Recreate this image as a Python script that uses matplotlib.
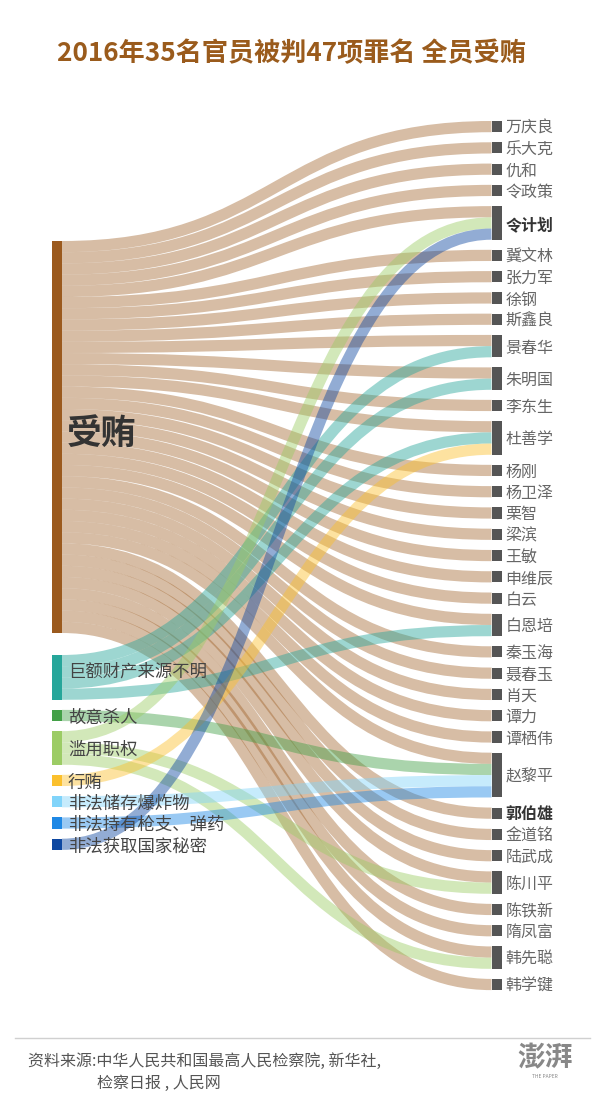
import matplotlib
matplotlib.use("Agg")
import matplotlib.pyplot as plt
from matplotlib.path import Path
from matplotlib.patches import PathPatch, Rectangle

plt.rcParams['font.family'] = ['Noto Sans CJK SC', 'DejaVu Sans']

# ---------------- data ----------------
title = "2016年35名官员被判47项罪名 全员受贿"
crimes = ['受贿', '巨额财产来源不明', '故意杀人', '滥用职权', '行贿',
          '非法储存爆炸物', '非法持有枪支、弹药', '非法获取国家秘密']
crime_colors = ['#9B5A1E', '#26A69A', '#43A047', '#9CCC65', '#FBC02D',
                '#81D4FA', '#1E88E5', '#0D47A1']
officials = ['万庆良', '乐大克', '仇和', '令政策', '令计划', '冀文林', '张力军', '徐钢',
             '斯鑫良', '景春华', '朱明国', '李东生', '杜善学', '杨刚', '杨卫泽', '栗智',
             '梁滨', '王敏', '申维辰', '白云', '白恩培', '秦玉海', '聂春玉', '肖天',
             '谭力', '谭栖伟', '赵黎平', '郭伯雄', '金道铭', '陆武成', '陈川平', '陈铁新',
             '隋凤富', '韩先聪', '韩学键']
extra_charges = {
    '令计划': ['滥用职权', '非法获取国家秘密'],
    '景春华': ['巨额财产来源不明'],
    '朱明国': ['巨额财产来源不明'],
    '杜善学': ['巨额财产来源不明', '行贿'],
    '白恩培': ['巨额财产来源不明'],
    '赵黎平': ['故意杀人', '非法储存爆炸物', '非法持有枪支、弹药'],
    '陈川平': ['滥用职权'],
    '韩先聪': ['滥用职权'],
}
bold_names = ['令计划', '郭伯雄']
source_line1 = "资料来源:中华人民共和国最高人民检察院, 新华社,"
source_line2 = "检察日报 , 人民网"

# links: (crime, official, value)
links = []
for o in officials:
    links.append(('受贿', o, 1))
    for c in extra_charges.get(o, []):
        links.append((c, o, 1))

# ---------------- layout (pixel space) ----------------
W, H = 600, 1108
fig = plt.figure(figsize=(W / 100, H / 100), dpi=100)
ax = fig.add_axes([0, 0, 1, 1])
ax.set_xlim(0, W)
ax.set_ylim(H, 0)
ax.axis('off')

ky = 11.2          # px per unit
gap = 10.08        # node padding
xl0, xl1 = 52, 62  # left node x range
xr0, xr1 = 491.5, 501.5

val_left = {c: sum(v for s, t, v in links if s == c) for c in crimes}
val_right = {o: sum(v for s, t, v in links if t == o) for o in officials}

# right column
right_top = {}
y = 121
for o in officials:
    right_top[o] = y
    y += val_right[o] * ky + gap

# left column
left_top = {}
left_top[crimes[0]] = 241
y = 655
for c in crimes[1:]:
    left_top[c] = y
    y += val_left[c] * ky + gap

# source links sorted by target order; target links sorted by source order
src_pos = {}
for c in crimes:
    outs = [(s, t, v) for (s, t, v) in links if s == c]
    outs.sort(key=lambda l: officials.index(l[1]))
    yy = left_top[c]
    for l in outs:
        src_pos[(l[0], l[1])] = yy + l[2] * ky / 2
        yy += l[2] * ky
tgt_pos = {}
for o in officials:
    ins = [(s, t, v) for (s, t, v) in links if t == o]
    ins.sort(key=lambda l: crimes.index(l[0]))
    yy = right_top[o]
    for l in ins:
        tgt_pos[(l[0], l[1])] = yy + l[2] * ky / 2
        yy += l[2] * ky

xm = (xl1 + xr0) / 2
for c in crimes:
    col = crime_colors[crimes.index(c)]
    a = 0.40 if c == '受贿' else 0.45
    for s, t, v in links:
        if s != c:
            continue
        y0 = src_pos[(s, t)]
        y1 = tgt_pos[(s, t)]
        p = Path([(xl1, y0), (xm, y0), (xm, y1), (xr0, y1)],
                 [Path.MOVETO, Path.CURVE4, Path.CURVE4, Path.CURVE4])
        ax.add_patch(PathPatch(p, facecolor='none', edgecolor=col, alpha=a,
                               lw=v * ky * 0.72, capstyle='butt', zorder=2))

# nodes
for c in crimes:
    ax.add_patch(Rectangle((xl0, left_top[c]), xl1 - xl0, val_left[c] * ky,
                           facecolor=crime_colors[crimes.index(c)], edgecolor='none', zorder=3))
for o in officials:
    ax.add_patch(Rectangle((xr0, right_top[o]), xr1 - xr0, val_right[o] * ky,
                           facecolor='#555555', edgecolor='none', zorder=3))

# labels
label_dy = {'受贿': -4, '巨额财产来源不明': -6}
for c in crimes:
    cy = left_top[c] + val_left[c] * ky / 2 + label_dy.get(c, 2)
    if c == '受贿':
        ax.text(xl1 + 5, cy, c, fontsize=25, fontweight='bold', color='#333333',
                va='center', ha='left', zorder=4)
    else:
        ax.text(xl1 + 6, cy, c, fontsize=12.5, color='#444444',
                va='center', ha='left', zorder=4)
for o in officials:
    cy = right_top[o] + val_right[o] * ky / 2 + 2
    if o in bold_names:
        ax.text(xr1 + 4, cy, o, fontsize=11.5, fontweight='bold', color='#333333',
                va='center', ha='left', zorder=4)
    else:
        ax.text(xr1 + 4, cy, o, fontsize=11.5, color='#666666',
                va='center', ha='left', zorder=4)

# title
ax.text(291, 54, title, fontsize=18.8, fontweight='bold', color='#9A5B1C',
        ha='center', va='center')

# footer
ax.plot([15, 590], [1038, 1038], color='#d0d0d0', lw=1)
ax.text(28, 1061, source_line1, fontsize=11.5, color='#555555', ha='left', va='center')
ax.text(97, 1083, source_line2, fontsize=11.5, color='#555555', ha='left', va='center')
ax.text(545, 1058, "澎湃", fontsize=20, fontweight='bold', color='#888888',
        ha='center', va='center')
ax.text(545, 1076, "THE PAPER", fontsize=3.5, color='#888888', ha='center', va='center')

fig.savefig('out.png', dpi=100)
